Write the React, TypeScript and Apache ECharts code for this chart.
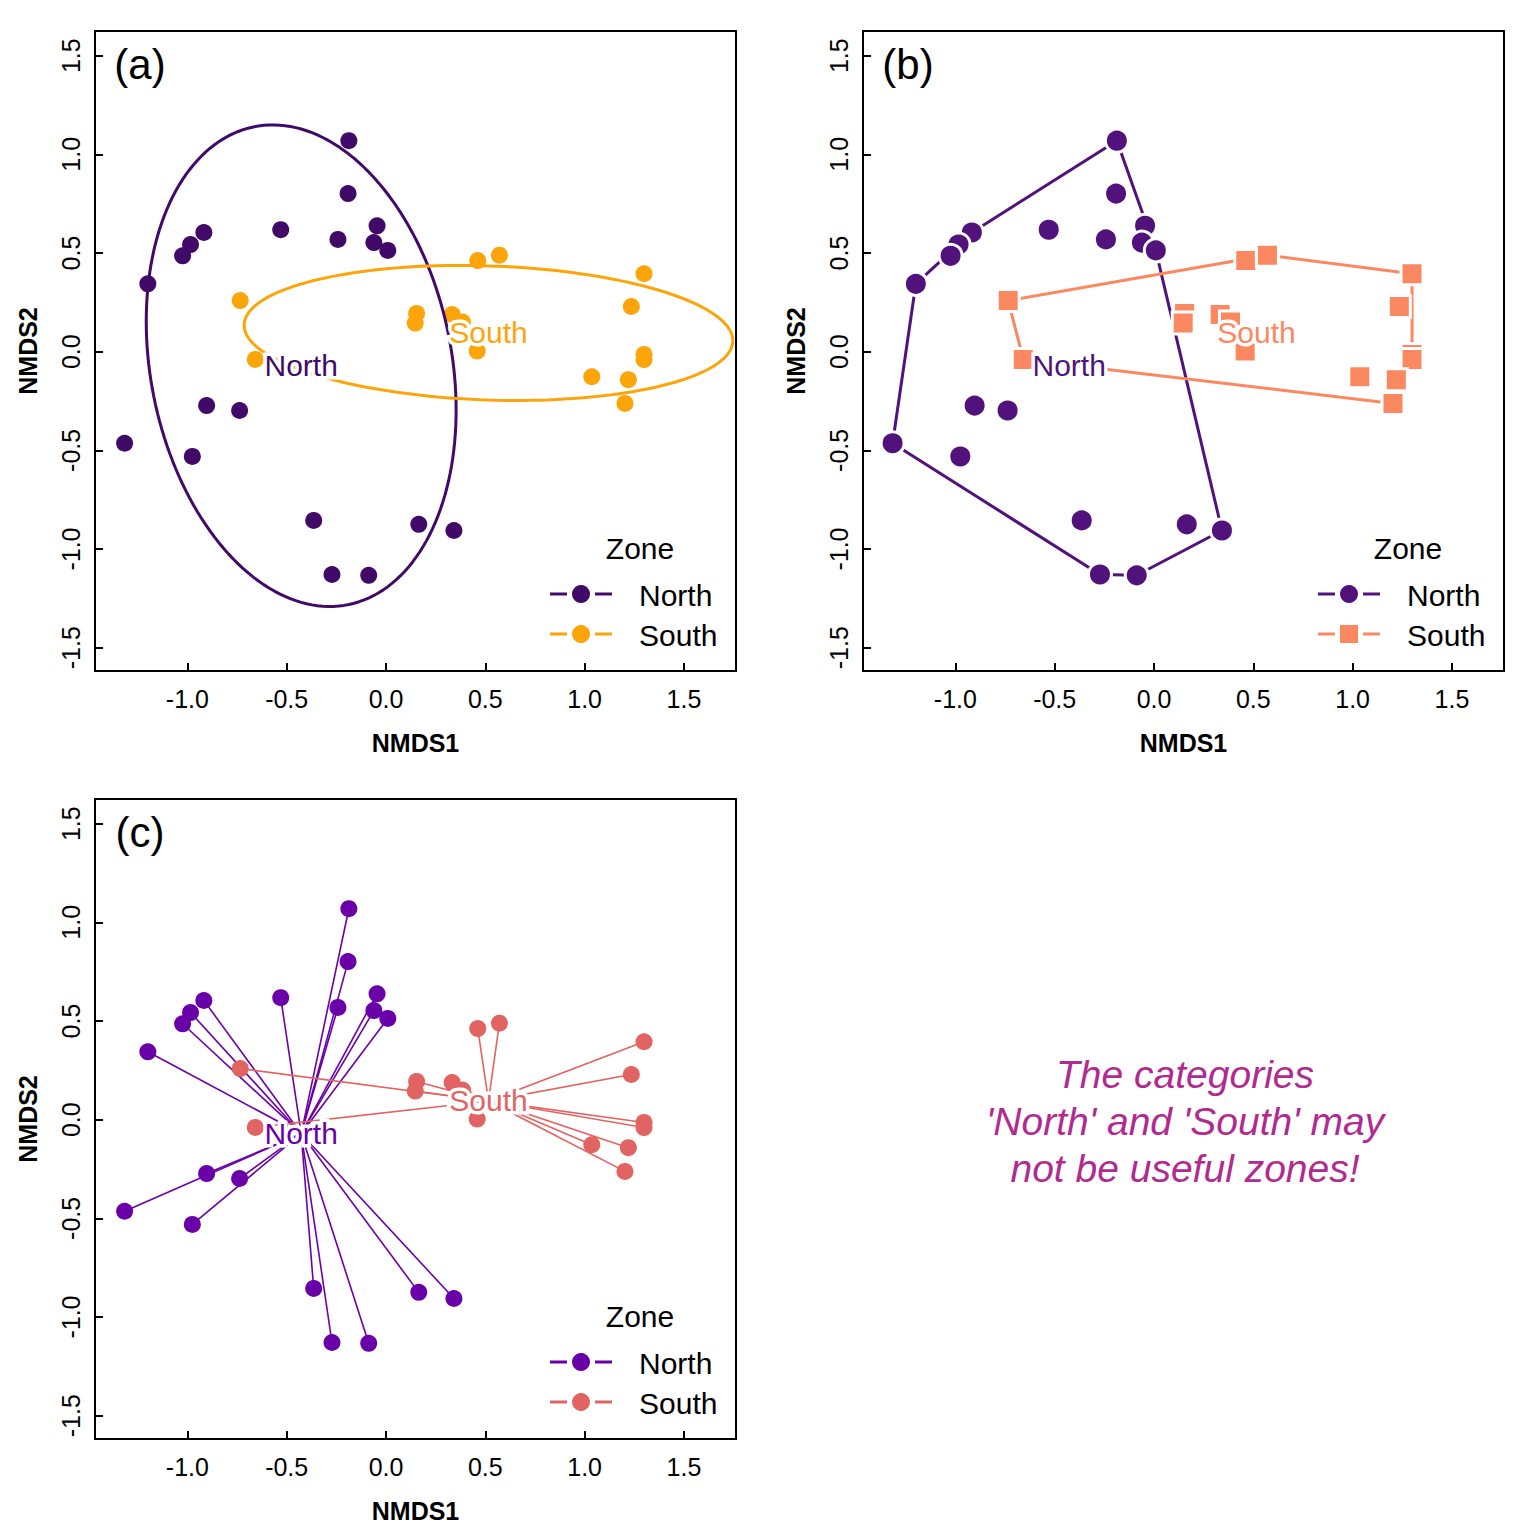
import React, { useEffect, useRef } from "react";
import * as echarts from "echarts";

// ---------- data (NMDS scores) ----------
const zones = ["North", "South"];
const northX = [-0.187, -0.191, -0.530, -0.242, -0.045, -0.061, 0.009, -0.917, -0.984, -1.024, -1.199, -0.903, -0.737, -1.316, -0.975, -0.364, 0.165, 0.342, -0.272, -0.087];
const northY = [1.069, 0.801, 0.618, 0.569, 0.638, 0.553, 0.513, 0.604, 0.543, 0.486, 0.344, -0.273, -0.298, -0.464, -0.531, -0.855, -0.875, -0.906, -1.129, -1.133];
const southX = [-0.734, -0.658, 0.154, 0.147, 0.333, 0.385, 0.459, 0.462, 0.571, 1.299, 1.235, 1.299, 1.299, 1.036, 1.220, 1.203];
const southY = [0.259, -0.039, 0.194, 0.145, 0.188, 0.150, 0.003, 0.462, 0.489, 0.395, 0.229, -0.014, -0.040, -0.127, -0.142, -0.262];
// group centres (used for labels, ellipses and spiders)
const centreX = [-0.427, 0.516];
const centreY = [-0.071, 0.095];
// ellipse covariance parameters per group
const ellVarX = [0.6084, 1.5129];
const ellVarY = [1.4884, 0.117];
const ellCov = [-0.175, -0.048];
// axis ticks
const xTicks = [-1.0, -0.5, 0.0, 0.5, 1.0, 1.5];
const yTicks = [-1.5, -1.0, -0.5, 0.0, 0.5, 1.0, 1.5];
const X_MIN = -1.465, X_MAX = 1.762, Y_MIN = -1.618, Y_MAX = 1.625;

const colA = ["#420A68", "#FCA50A"];
const colB = ["#51127C", "#FB8861"];
const colC = ["#6A00A8", "#E16462"];
const noteColor = "#B12A90";
const FONT = "'Liberation Sans', Arial, Helvetica, sans-serif";

const toPts = (xs: number[], ys: number[]) => xs.map((x, i) => [x, ys[i]]);
const groups = [toPts(northX, northY), toPts(southX, southY)];

function convexHull(p: number[][]) {
  const s = [...p].sort((a, b) => a[0] - b[0] || a[1] - b[1]);
  const cross = (o: number[], a: number[], b: number[]) =>
    (a[0] - o[0]) * (b[1] - o[1]) - (a[1] - o[1]) * (b[0] - o[0]);
  const lower: number[][] = [];
  for (const q of s) {
    while (lower.length >= 2 && cross(lower[lower.length - 2], lower[lower.length - 1], q) <= 0) lower.pop();
    lower.push(q);
  }
  const upper: number[][] = [];
  for (let i = s.length - 1; i >= 0; i--) {
    const q = s[i];
    while (upper.length >= 2 && cross(upper[upper.length - 2], upper[upper.length - 1], q) <= 0) upper.pop();
    upper.push(q);
  }
  upper.pop();
  lower.pop();
  const h = lower.concat(upper);
  h.push(h[0]);
  return h;
}

function ellipse(g: number) {
  const a11 = Math.sqrt(ellVarX[g]);
  const a21 = ellCov[g] / a11;
  const a22 = Math.sqrt(ellVarY[g] - a21 * a21);
  const out: number[][] = [];
  for (let i = 0; i <= 180; i++) {
    const t = (i / 180) * Math.PI * 2;
    out.push([centreX[g] + a11 * Math.cos(t), centreY[g] + a21 * Math.cos(t) + a22 * Math.sin(t)]);
  }
  return out;
}

const grids = [
  { left: 95, top: 31 },
  { left: 863, top: 31 },
  { left: 95, top: 799 },
];

export default function App() {
  const ref = useRef<HTMLDivElement>(null);
  useEffect(() => {
    document.body.style.margin = "0";
    if (!ref.current) return;
    const chart = echarts.init(ref.current, null, { renderer: "svg" });

    const xAxis = (gi: number) => ({
      type: "value",
      gridIndex: gi,
      min: X_MIN,
      max: X_MAX,
      name: "NMDS1",
      nameLocation: "middle",
      nameGap: 59,
      nameTextStyle: { fontWeight: "bold", fontSize: 25, color: "#000", fontFamily: FONT },
      axisLine: { show: true, onZero: false, lineStyle: { color: "#000", width: 2 } },
      axisTick: { show: true, inside: true, length: 8, lineStyle: { color: "#000", width: 2 }, customValues: xTicks },
      axisLabel: {
        show: true, customValues: xTicks, formatter: (v: number) => v.toFixed(1),
        fontSize: 25, color: "#000", margin: 15, fontFamily: FONT,
      },
      splitLine: { show: false },
    });
    const yAxis = (gi: number) => ({
      type: "value",
      gridIndex: gi,
      min: Y_MIN,
      max: Y_MAX,
      name: "NMDS2",
      nameLocation: "middle",
      nameGap: 55,
      nameTextStyle: { fontWeight: "bold", fontSize: 25, color: "#000", fontFamily: FONT },
      axisLine: { show: true, onZero: false, lineStyle: { color: "#000", width: 2 } },
      axisTick: { show: true, inside: true, length: 8, lineStyle: { color: "#000", width: 2 }, customValues: yTicks },
      axisLabel: {
        show: true, customValues: yTicks, formatter: (v: number) => v.toFixed(1),
        rotate: 90, fontSize: 25, color: "#000", margin: 12, fontFamily: FONT,
      },
      splitLine: { show: false },
    });

    // centre labels drawn by a custom series: white halo text, then coloured text on top
    const labelSeries = (gi: number, cols: string[]) => ({
      type: "custom",
      xAxisIndex: gi,
      yAxisIndex: gi,
      z: 10,
      silent: true,
      clip: false,
      data: zones.map((z, g) => [centreX[g], centreY[g], g]),
      renderItem: (params: any, api: any) => {
        const p = api.coord([api.value(0), api.value(1)]);
        const g = api.value(2);
        const base = { text: zones[g], fontSize: 30, fontFamily: FONT, align: "center", verticalAlign: "middle" };
        return {
          type: "group",
          children: [
            { type: "text", x: p[0], y: p[1], style: { ...base, fill: "#fff", stroke: "#fff", lineWidth: 7 } },
            { type: "text", x: p[0], y: p[1], style: { ...base, fill: cols[g] } },
          ],
        };
      },
    });

    const series: any[] = [];
    // panel (a): points + ellipses
    groups.forEach((pts, g) => {
      series.push({
        type: "scatter", xAxisIndex: 0, yAxisIndex: 0, symbol: "circle", symbolSize: 17, z: 2,
        itemStyle: { color: colA[g], opacity: 1 }, data: pts,
      });
    });
    [0, 1].forEach((g) => {
      series.push({
        type: "line", xAxisIndex: 0, yAxisIndex: 0, symbol: "none", showSymbol: false, z: 3,
        lineStyle: { color: colA[g], width: 3 }, data: ellipse(g),
      });
    });
    series.push(labelSeries(0, colA));

    // panel (b): convex hulls + points
    groups.forEach((pts, g) => {
      series.push({
        type: "line", xAxisIndex: 1, yAxisIndex: 1, symbol: "none", showSymbol: false, z: 2,
        lineStyle: { color: colB[g], width: 3 }, data: convexHull(pts),
      });
    });
    groups.forEach((pts, g) => {
      series.push({
        type: "scatter", xAxisIndex: 1, yAxisIndex: 1, symbol: g === 0 ? "circle" : "rect",
        symbolSize: g === 0 ? 23 : 22, z: 3,
        itemStyle: { color: colB[g], borderColor: "#fff", borderWidth: 3, opacity: 1 }, data: pts,
      });
    });
    series.push(labelSeries(1, colB));

    // panel (c): spiders + points
    groups.forEach((pts, g) => {
      series.push({
        type: "lines", coordinateSystem: "cartesian2d", xAxisIndex: 2, yAxisIndex: 2, z: 2,
        lineStyle: { color: colC[g], width: 1.6, opacity: 1 },
        data: pts.map((p) => ({ coords: [p, [centreX[g], centreY[g]]] })),
      });
    });
    groups.forEach((pts, g) => {
      series.push({
        type: "scatter", xAxisIndex: 2, yAxisIndex: 2, symbol: "circle", symbolSize: 17, z: 3,
        itemStyle: { color: colC[g], opacity: 1 }, data: pts,
      });
    });
    series.push(labelSeries(2, colC));

    // legends and annotations
    const graphic: any[] = [];
    const legend = (dx: number, dy: number, cols: string[], southSquare: boolean) => {
      graphic.push({
        type: "text", x: 640 + dx, y: 548 + dy, z: 100,
        style: { text: "Zone", fontSize: 30, fontFamily: FONT, fill: "#000", align: "center", verticalAlign: "middle" },
      });
      zones.forEach((z, i) => {
        const y0 = 594 + dy + i * 40;
        graphic.push({ type: "line", z: 100, shape: { x1: 550 + dx, y1: y0, x2: 567 + dx, y2: y0 }, style: { stroke: cols[i], lineWidth: 3 } });
        graphic.push({ type: "line", z: 100, shape: { x1: 595 + dx, y1: y0, x2: 612 + dx, y2: y0 }, style: { stroke: cols[i], lineWidth: 3 } });
        if (southSquare && i === 1) {
          graphic.push({ type: "rect", z: 100, shape: { x: 581 + dx - 9, y: y0 - 9, width: 18, height: 18 }, style: { fill: cols[i] } });
        } else {
          graphic.push({ type: "circle", z: 100, shape: { cx: 581 + dx, cy: y0, r: 9 }, style: { fill: cols[i] } });
        }
        graphic.push({
          type: "text", x: 639 + dx, y: y0 + 1, z: 100,
          style: { text: z, fontSize: 30, fontFamily: FONT, fill: "#000", align: "left", verticalAlign: "middle" },
        });
      });
    };
    legend(0, 0, colA, false);
    legend(768, 0, colB, true);
    legend(0, 768, colC, false);

    const panelLabels = ["(a)", "(b)", "(c)"];
    grids.forEach((g, i) => {
      graphic.push({
        type: "text", x: g.left + 45, y: g.top + 33, z: 100,
        style: { text: panelLabels[i], fontSize: 42, fontFamily: FONT, fill: "#000", align: "center", verticalAlign: "middle" },
      });
    });
    graphic.push({
      type: "text", x: 1185, y: 1121, z: 100,
      style: {
        text: "The categories\n'North' and 'South' may\nnot be useful zones!",
        fontSize: 39, fontStyle: "italic", fontFamily: FONT, fill: noteColor,
        align: "center", verticalAlign: "middle", lineHeight: 47,
      },
    });

    chart.setOption({
      animation: false,
      backgroundColor: "#fff",
      grid: grids.map((g) => ({
        left: g.left, top: g.top, width: 641, height: 640, show: true,
        borderColor: "#000", borderWidth: 2, backgroundColor: "transparent",
        containLabel: false, outerBoundsMode: "none",
      })),
      xAxis: [0, 1, 2].map(xAxis),
      yAxis: [0, 1, 2].map(yAxis),
      series,
      graphic,
    });
    return () => chart.dispose();
  }, []);
  return <div ref={ref} style={{ width: 1536, height: 1536, position: "absolute", left: 0, top: 0 }} />;
}
